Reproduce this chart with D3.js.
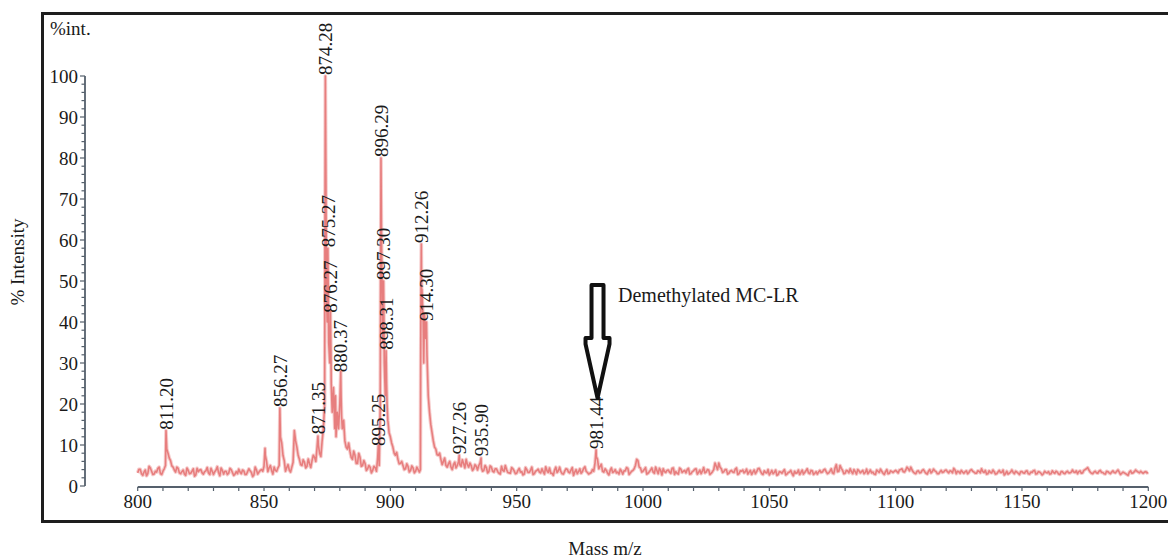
<!DOCTYPE html>
<html><head><meta charset="utf-8">
<script src="https://cdn.jsdelivr.net/npm/d3@7"></script>
<style>
html,body{margin:0;padding:0;background:#fff;}
svg text{font-family:"Liberation Serif","Times New Roman",serif;fill:#1a1a1a;}
</style></head>
<body><svg id="c" width="1168" height="559"></svg>
<script>
// ---- data ----
const mzStart = 800;            // integer-step trace starts at 800, half-step trace at 800.5
const baseTrace = [
3.2,4.1,2.6,3.9,3.0,4.4,2.8,3.6,4.3,3.0,
3.6,5.0,8.0,6.2,4.6,3.4,4.3,3.0,3.9,2.6,
3.8,3.1,4.2,2.7,3.5,4.0,2.9,3.7,3.2,4.3,
2.8,3.9,3.3,4.4,2.9,3.6,3.1,4.0,2.6,3.5,
4.1,3.0,3.7,2.8,4.2,3.3,2.7,3.9,3.4,4.0,
4.8,6.0,4.4,3.8,4.6,3.6,5.0,10.5,6.2,4.5,
3.9,4.6,13.5,9.5,6.5,5.0,5.8,4.8,5.5,6.2,
7.0,9.5,8.0,11.0,20.0,40.0,30.0,18.0,14.0,18.0,
20.0,14.0,11.0,9.0,8.5,6.5,7.5,5.5,7.0,5.0,
5.5,4.2,4.6,3.8,4.5,7.0,20.0,35.0,22.0,16.0,
12.0,9.5,7.5,6.5,5.5,5.0,4.2,4.8,3.8,4.4,
3.6,4.0,30.0,40.0,36.0,22.0,15.0,11.0,9.0,7.5,
6.5,6.0,5.0,5.4,4.6,5.2,4.4,6.0,4.8,5.5,
6.5,4.6,5.0,4.2,4.8,5.0,4.6,3.8,4.5,3.5,
4.6,3.4,4.2,3.1,4.8,3.6,4.0,3.2,4.5,3.7,
3.1,4.3,3.5,2.9,4.0,3.3,4.6,3.0,3.8,3.4,
4.2,2.9,3.7,4.4,3.1,3.9,3.3,4.6,3.0,3.6,
4.1,3.2,4.5,3.4,3.0,4.2,3.5,4.7,3.3,3.1,
4.0,5.5,6.5,4.8,3.6,4.2,3.1,3.8,3.3,4.0,
3.4,4.1,2.9,3.7,4.3,3.2,3.8,5.0,6.2,4.4,
3.6,4.5,3.1,3.9,3.4,4.6,3.0,3.8,4.2,3.3,
3.9,3.1,4.4,3.5,2.9,4.1,3.6,3.2,4.3,3.0,
3.7,4.2,3.3,3.0,4.5,3.4,3.9,3.1,4.0,4.8,
5.6,4.2,3.5,4.0,3.1,3.8,3.3,4.4,3.0,3.6,
3.2,4.1,3.4,2.8,3.9,3.5,4.3,3.0,3.7,3.2,
2.7,3.8,3.3,2.6,3.5,3.1,4.0,2.9,3.4,3.0,
3.6,3.2,2.8,3.9,3.3,4.2,3.0,3.7,3.1,2.9,
3.8,3.4,4.1,3.0,3.6,3.2,4.4,3.5,5.0,3.8,
3.1,3.7,4.2,3.0,3.5,4.0,3.2,3.8,3.3,3.0,
3.9,3.4,2.8,3.6,4.1,3.1,3.5,3.0,3.7,3.3,
3.8,3.2,4.0,3.5,3.9,4.2,4.6,3.4,3.0,3.7,
3.3,4.0,3.1,3.6,3.2,4.1,3.5,3.0,3.8,3.4,
3.9,3.2,3.6,4.3,3.0,3.5,3.8,3.1,3.7,3.3,
4.0,3.4,3.1,3.6,4.2,3.3,2.9,3.7,3.2,3.5,
3.0,3.8,3.3,2.7,3.6,3.1,3.9,3.0,3.4,2.8,
3.5,3.1,3.7,2.9,3.3,3.8,3.0,3.4,2.7,3.6,
3.2,2.9,3.7,3.1,3.4,2.8,3.5,3.0,3.6,3.2,
3.9,3.3,3.0,3.7,3.2,4.0,4.5,3.4,3.0,3.6,
3.1,3.8,3.3,2.9,3.5,3.0,3.7,3.2,3.9,2.8,
3.4,3.0,2.6,3.7,3.2,3.9,3.4,3.6,3.1,3.5,3.3
];
const halfTrace = [
4.1,3.0,3.4,2.5,4.8,3.6,2.9,3.4,4.6,2.8,
4.2,9.0,6.8,4.9,3.9,4.6,3.2,3.5,2.9,4.4,
3.0,3.6,2.4,4.3,3.9,3.2,3.5,4.5,2.8,3.6,
3.5,4.7,2.5,3.8,3.6,2.8,4.3,3.3,2.9,3.0,
3.4,3.9,2.8,3.5,3.7,2.3,4.6,2.9,3.8,3.6,
7.5,3.5,5.0,2.9,3.8,4.4,12.0,7.5,3.6,5.2,
3.4,5.8,11.0,7.5,5.2,6.4,4.4,6.6,4.5,7.5,
6.0,10.0,7.2,14.0,75,42,32,24,12,14,
22,16,9.5,10.5,7.0,8.5,5.5,8.0,4.8,6.2,
3.8,5.0,3.2,4.8,3.6,8.0,60,38,25,13,
10.5,8.0,8.2,5.4,6.0,4.0,5.4,3.4,4.9,3.2,
4.6,3.4,48,42,32,18,13,9.5,7.6,8.0,
5.2,6.8,4.6,6.0,4.0,5.8,5.0,5.2,6.4,4.4,
5.2,5.6,3.8,5.2,3.9,5.6,3.6,5.0,3.2,4.9,
3.6,4.2,3.5,2.9,3.8,5.0,3.3,3.1,4.2,3.0,
3.8,3.4,2.7,4.5,3.3,3.9,2.8,3.6,4.1,3.2,
3.5,4.7,3.3,3.1,2.6,4.6,3.7,3.5,2.9,4.2,
3.4,3.9,2.6,4.0,3.5,3.1,4.3,3.6,2.9,3.3,
3.6,7.2,4.2,5.3,3.4,3.8,2.7,4.4,3.5,3.2,
2.9,3.6,3.7,4.5,2.8,3.6,4.2,6.5,4.6,3.4,
4.0,2.9,3.5,4.4,3.1,3.8,4.3,2.7,3.5,3.8,
3.4,4.3,2.8,3.1,4.4,3.3,3.8,4.0,2.9,3.5,
4.1,2.9,3.9,3.6,3.2,4.0,2.8,3.5,5.6,4.0,
4.6,3.3,4.0,2.9,3.6,3.4,4.1,2.8,3.7,3.9,
3.5,2.9,3.8,3.4,3.0,4.2,3.6,2.8,3.3,4.0,
3.2,3.0,3.9,2.8,3.4,3.6,2.7,3.3,3.8,2.5,
3.1,3.9,3.3,2.9,3.7,3.2,3.8,2.8,3.5,3.4,
3.3,3.9,3.5,3.2,4.2,3.0,5.2,3.6,4.3,3.0,
3.8,3.2,3.5,4.0,2.9,3.7,3.5,3.0,4.1,3.4,
3.2,2.9,3.9,3.3,3.6,2.8,4.0,3.1,3.5,3.6,
3.5,3.9,4.2,3.4,4.6,3.7,3.9,3.1,3.6,3.2,
3.8,3.5,2.9,4.0,3.5,3.7,3.0,3.4,3.3,3.8,
3.5,3.7,3.2,3.9,3.6,3.1,3.4,3.5,3.0,3.8,
3.6,3.1,3.7,3.2,3.5,3.8,3.0,3.3,3.9,2.9,
3.4,3.3,3.9,3.0,2.9,3.4,3.3,3.6,3.1,3.5,
3.2,3.6,3.0,3.4,3.7,2.9,3.5,3.1,3.0,3.3,
3.5,3.0,3.3,3.6,2.9,3.5,3.1,3.4,3.2,3.4,
3.4,3.7,3.5,3.1,3.8,4.2,3.9,3.1,3.4,3.2,
3.6,3.3,3.0,3.6,3.2,3.4,3.3,3.6,3.4,3.1,
3.2,2.8,3.4,3.1,3.5,3.6,3.2,3.3,3.4,3.2
];
// extra points at fractional m/z (peak apexes and shoulders)
const peakPointsMz = [811.2, 850.4, 856.27, 871.35, 874.1, 874.28, 874.45, 874.7, 875.27, 875.6, 876.27, 876.6, 878.3, 880.37, 880.7,
  895.25, 895.6, 896.1, 896.29, 896.6, 897.3, 897.6, 898.31, 898.7, 911.9, 912.1, 912.26, 912.4, 913.2, 914.3, 914.7, 927.26, 935.9, 981.44];
const peakPointsInt = [13.5, 9.2, 19.0, 12.2, 60, 100, 80, 48, 58, 35, 43, 25, 22, 28, 17,
  10, 5, 45, 80, 55, 50, 30, 33, 20, 4, 45, 59, 45, 30, 40, 28, 7.5, 6.8, 8.8];
// labelled peaks
const labelText = ["811.20","856.27","871.35","874.28","875.27","876.27","880.37","895.25","896.29","897.30","898.31","912.26","914.30","927.26","935.90","981.44"];
const labelMz   = [811.20, 856.27, 871.35, 874.28, 875.27, 876.27, 880.37, 895.25, 896.29, 897.30, 898.31, 912.26, 914.30, 927.26, 935.90, 981.44];
const labelInt  = [13.5, 19.0, 12.4, 100, 58, 42, 27.5, 9.5, 80, 50, 33, 59, 40, 7.5, 7.0, 8.8];
const xTicks = [800, 850, 900, 950, 1000, 1050, 1100, 1150, 1200];
const yTicks = [0, 10, 20, 30, 40, 50, 60, 70, 80, 90, 100];
const annotationText = "Demethylated MC-LR";
const annotationMz = 982;

// ---- layout ----
const svg = d3.select("#c");
const x = d3.scaleLinear().domain([800, 1200]).range([137.7, 1148.3]);
const y = d3.scaleLinear().domain([0, 100]).range([486, 76]);

// outer frame
svg.append("rect").attr("x", 42.5).attr("y", 13.5).attr("width", 1150).attr("height", 508)
  .attr("fill", "none").attr("stroke", "#1e1e1e").attr("stroke-width", 3);

// build trace
const pts = baseTrace.map((v, i) => [mzStart + i, v]);
halfTrace.forEach((v, i) => pts.push([mzStart + 0.5 + i, v]));
peakPointsMz.forEach((m, i) => pts.push([m, peakPointsInt[i]]));
pts.sort((a, b) => a[0] - b[0]);

const line = d3.line().x(d => x(d[0])).y(d => y(d[1]));
svg.append("path").datum(pts).attr("d", line).attr("fill", "none")
  .attr("stroke", "#f3baba").attr("stroke-width", 3.6).attr("stroke-linejoin", "round").attr("opacity", 0.75);
svg.append("path").datum(pts).attr("d", line).attr("fill", "none")
  .attr("stroke", "#e67676").attr("stroke-width", 1.6).attr("stroke-linejoin", "round").attr("opacity", 0.9);

// x axis
const axisColor = "#55606c";
const xMinor = d3.range(800, 1201, 10);
const gx = svg.append("g").attr("transform", `translate(0,${y(0) + 1})`);
gx.append("line").attr("x1", x(800)).attr("x2", x(1200)).attr("stroke", axisColor).attr("stroke-width", 1.8);
gx.selectAll("line.mt").data(xMinor).join("line").attr("class", "mt")
  .attr("x1", d => x(d)).attr("x2", d => x(d)).attr("y1", 0).attr("y2", 4)
  .attr("stroke", axisColor).attr("stroke-width", 1.2);
gx.selectAll("text").data(xTicks).join("text")
  .attr("x", d => x(d)).attr("y", 21).attr("text-anchor", "middle")
  .attr("font-size", 19).text(d => d);

// y axis
const yMinor = d3.range(0, 101, 2);
const gy = svg.append("g").attr("transform", `translate(85,0)`);
gy.append("line").attr("y1", y(0)).attr("y2", y(100)).attr("stroke", axisColor).attr("stroke-width", 1.8);
gy.selectAll("line.mt").data(yMinor).join("line").attr("class", "mt")
  .attr("y1", d => y(d)).attr("y2", d => y(d)).attr("x1", 0).attr("x2", d => d % 10 === 0 ? -5 : -3.5)
  .attr("stroke", axisColor).attr("stroke-width", 1.2);
gy.selectAll("text").data(yTicks).join("text")
  .attr("x", -7).attr("y", d => y(d)).attr("dy", "0.35em").attr("text-anchor", "end")
  .attr("font-size", 19).text(d => d);

// peak labels
svg.selectAll("text.pl").data(labelText).join("text").attr("class", "pl")
  .attr("transform", (d, i) => `translate(${x(labelMz[i])},${y(labelInt[i]) - 1}) rotate(-90)`)
  .attr("dy", "0.35em").attr("font-size", 19).text(d => d);

// annotation arrow
const ax = x(annotationMz);
const arrow = [[-6, 285], [6, 285], [6, 338], [12, 338], [12, 344], [0, 398], [-12, 344], [-12, 338], [-6, 338]];
svg.append("path").attr("d", "M" + arrow.map(p => [ax + p[0], p[1]].join(",")).join("L") + "Z")
  .attr("fill", "#fff").attr("stroke", "#111").attr("stroke-width", 4).attr("stroke-linejoin", "round");
svg.append("text").attr("x", 618).attr("y", 302).attr("font-size", 20).text(annotationText);

// titles
svg.append("text").attr("x", 50).attr("y", 35).attr("font-size", 19).text("%int.");
svg.append("text").attr("transform", "translate(24,262) rotate(-90)").attr("text-anchor", "middle")
  .attr("font-size", 19).text("% Intensity");
svg.append("text").attr("x", 605).attr("y", 555).attr("text-anchor", "middle").attr("font-size", 19).text("Mass m/z");
</script></body></html>
